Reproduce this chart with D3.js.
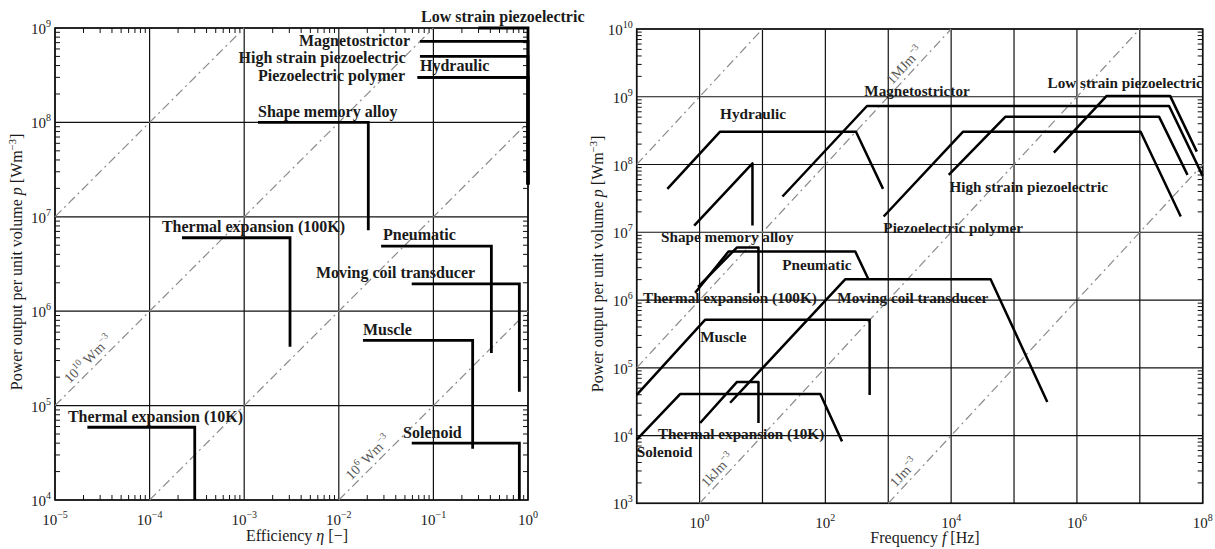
<!DOCTYPE html>
<html lang="en">
<head>
<meta charset="utf-8">
<script src="https://d3js.org/d3.v7.min.js"></script>
<style>
body { margin: 0; background: #fff; }
svg text { font-family: "Liberation Serif", "DejaVu Serif", serif; fill: #1a1a1a; }
.lbl { font-weight: bold; font-size: 16px; }
.rlbl { font-weight: bold; font-size: 15.2px; }
.tick { font-size: 15px; }
.title { font-size: 16px; }
.elbl { font-size: 14px; fill: #555; }
</style>
</head>
<body>
<script>

// ---- left panel: efficiency vs power density ----
var effNames = ["Low strain piezoelectric", "Magnetostrictor", "High strain piezoelectric", "Hydraulic",
                "Piezoelectric polymer", "Shape memory alloy", "Thermal expansion (100K)", "Pneumatic",
                "Moving coil transducer", "Muscle", "Solenoid", "Thermal expansion (10K)"];
var effMin  = [0.3, 0.072, 0.072, 0.068, 0.068, 1.4e-3, 2.2e-4, 0.028, 0.059, 0.018, 0.059, 2.2e-5];
var effMax  = [1, 1, 1, 1, 1, 0.0205, 3.05e-3, 0.41, 0.81, 0.26, 0.81, 3e-4];
var effPmax = [1e9, 7.2e8, 5e8, 3e8, 3e8, 1e8, 6e6, 4.9e6, 1.95e6, 4.9e5, 4e4, 5.9e4];
var effPmin = [2.2e7, 2.2e7, 2.2e7, 2.2e7, 2.2e7, 7.2e6, 4.2e5, 3.6e5, 1.4e5, 3.5e4, 1e4, 1e4];
// label anchors (eta, p) and alignment
var effLabelEta = [0.074, 0.0566, 0.0509, 0.0721, 0.0501, 1.4e-3, 1.35e-4, 0.0293, 5.74e-3, 0.018, 0.0478, 1.37e-5];
var effLabelP   = [1.16e9, 6.44e8, 4.26e8, 3.5e8, 2.77e8, 1.15e8, 6.95e6, 5.68e6, 2.26e6, 5.6e5, 4.5e4, 6.75e4];
var effLabelEnd = [false, true, true, false, true, false, false, false, false, false, false, false];
var effEnergy = [1e12, 1e10, 1e8, 1e6];
var effEnergyText = [null, ["10", "10", " Wm", "\u22123"], null, ["10", "6", " Wm", "\u22123"]];
var effEnergyAt = [null, 1.56e-5, null, 0.0148];

// ---- right panel: frequency vs power density ----
var freqNames = ["Hydraulic", "Shape memory alloy", "Magnetostrictor", "Low strain piezoelectric",
                 "High strain piezoelectric", "Piezoelectric polymer", "Pneumatic", "Thermal expansion (100K)",
                 "Moving coil transducer", "Muscle", "Solenoid", "Thermal expansion (10K)"];
var freqF = [
  [0.307, 2.12, 307, 826],
  [0.82, 6.93, 6.93],
  [20.8, 459, 2.92e7, 1e8],
  [4.3e5, 2.97e6, 3.03e7, 8.05e7],
  [9.16e3, 7.33e4, 2.02e7, 5.73e7],
  [845, 1.55e4, 1.03e7, 4.48e7],
  [0.85, 2.88, 299, 488],
  [0.946, 3.91, 8.63, 8.63],
  [3.06, 208, 4.24e4, 3.38e5],
  [0.1, 1.22, 506, 506],
  [0.1, 0.49, 83, 184],
  [1.02, 3.91, 8.63, 8.63]
];
var freqP = [
  [4.37e7, 3.05e8, 3.05e8, 4.37e7],
  [1.25e7, 1.04e8, 1.26e7],
  [3.37e7, 7.31e8, 7.31e8, 6.8e7],
  [1.5e8, 1.03e9, 1.03e9, 1.55e8],
  [7.03e7, 5.09e8, 5.09e8, 7.03e7],
  [1.71e7, 3.05e8, 3.05e8, 1.71e7],
  [1.28e6, 5.19e6, 5.19e6, 1.99e6],
  [1.57e6, 5.94e6, 5.94e6, 1.26e6],
  [3.05e4, 2.03e6, 2.03e6, 3.12e4],
  [3.98e4, 5.1e5, 5.1e5, 3.98e4],
  [8.7e3, 4.09e4, 4.09e4, 8.2e3],
  [1.53e4, 6.15e4, 6.15e4, 1.53e4]
];
var freqLabelF = [2.12, 0.244, 416, 3.41e5, 9.4e3, 836, 20.6, 0.126, 155, 1.02, 0.1, 0.218];
var freqLabelP = [4.71e8, 7.21e6, 1.03e9, 1.35e9, 3.94e7, 9.8e6, 2.79e6, 9.1e5, 9.1e5, 2.42e5, 4.86e3, 8.97e3];
var freqEnergy = [1e9, 1e6, 1e3, 1];
var freqEnergyText = [null, ["1MJm", "\u22123"], ["1kJm", "\u22123"], ["1Jm", "\u22123"]];
var freqEnergyAt = [null, 1320, 1.5, 1500];

var svg = d3.select("body").append("svg")
  .attr("width", 1215)
  .attr("height", 549);

var lx = d3.scaleLog().domain([1e-5, 1]).range([55, 528]);
var ly = d3.scaleLog().domain([1e4, 1e9]).range([500, 28]);
var rx = d3.scaleLog().domain([1e-1, 1e8]).range([636.7, 1202.7]);
var ry = d3.scaleLog().domain([1e3, 1e10]).range([503.3, 29]);

function decades(s) {
  var d = s.domain(), out = [];
  for (var e = Math.round(Math.log10(d[0])); e <= Math.round(Math.log10(d[1])); e++) out.push(e);
  return out;
}

function minors(s) {
  var out = [];
  decades(s).slice(0, -1).forEach(function(e) {
    for (var m = 2; m <= 9; m++) out.push(m * Math.pow(10, e));
  });
  return out;
}

function frame(x, y, xMinor, yMinor) {
  var g = svg.append("g");
  var x0 = x.range()[0], x1 = x.range()[1], y0 = y.range()[1], y1 = y.range()[0];
  // grid
  g.selectAll(".gx").data(decades(x)).enter().append("line")
    .attr("x1", function(e) { return x(Math.pow(10, e)); })
    .attr("x2", function(e) { return x(Math.pow(10, e)); })
    .attr("y1", y0).attr("y2", y1)
    .attr("stroke", "#111").attr("stroke-width", 1.2);
  g.selectAll(".gy").data(decades(y)).enter().append("line")
    .attr("y1", function(e) { return y(Math.pow(10, e)); })
    .attr("y2", function(e) { return y(Math.pow(10, e)); })
    .attr("x1", x0).attr("x2", x1)
    .attr("stroke", "#111").attr("stroke-width", 1.2);
  // minor ticks
  if (xMinor) {
    minors(x).forEach(function(v) {
      g.append("line").attr("x1", x(v)).attr("x2", x(v)).attr("y1", y1).attr("y2", y1 - 5)
        .attr("stroke", "#111").attr("stroke-width", 1);
      g.append("line").attr("x1", x(v)).attr("x2", x(v)).attr("y1", y0).attr("y2", y0 + 5)
        .attr("stroke", "#111").attr("stroke-width", 1);
    });
  }
  if (yMinor) {
    minors(y).forEach(function(v) {
      g.append("line").attr("y1", y(v)).attr("y2", y(v)).attr("x1", x0).attr("x2", x0 + 5)
        .attr("stroke", "#111").attr("stroke-width", 1);
      g.append("line").attr("y1", y(v)).attr("y2", y(v)).attr("x1", x1).attr("x2", x1 - 5)
        .attr("stroke", "#111").attr("stroke-width", 1);
    });
  }
  g.append("rect").attr("x", x0).attr("y", y0).attr("width", x1 - x0).attr("height", y1 - y0)
    .attr("fill", "none").attr("stroke", "#111").attr("stroke-width", 1.6);
  return g;
}

function powText(sel, e) {
  sel.append("tspan").text("10");
  sel.append("tspan").attr("dy", -7).attr("font-size", "10px")
    .text(e < 0 ? "\u2212" + Math.abs(e) : String(e));
}

function tickLabels(x, y, xExp, yExp) {
  var yb = y.range()[0];
  xExp.forEach(function(e) {
    var t = svg.append("text").attr("class", "tick")
      .attr("x", x(Math.pow(10, e))).attr("y", yb + 25).attr("text-anchor", "middle");
    powText(t, e);
  });
  var xl = x.range()[0];
  yExp.forEach(function(e) {
    var t = svg.append("text").attr("class", "tick")
      .attr("x", xl - 4).attr("y", y(Math.pow(10, e)) + 6).attr("text-anchor", "end");
    powText(t, e);
  });
}

function energyLines(x, y, E, texts, at) {
  var fd = x.domain(), pd = y.domain();
  E.forEach(function(en, i) {
    var a = Math.max(fd[0], pd[0] / en), b = Math.min(fd[1], pd[1] / en);
    svg.append("line")
      .attr("x1", x(a)).attr("y1", y(a * en)).attr("x2", x(b)).attr("y2", y(b * en))
      .attr("stroke", "#8a8a8a").attr("stroke-width", 1.2)
      .attr("stroke-dasharray", "9,4,2,4");
    if (texts[i]) {
      var px = x(at[i]), py = y(at[i] * en);
      var ang = Math.atan2(y(at[i] * en * 10) - py, x(at[i] * 10) - px) * 180 / Math.PI;
      var t = svg.append("text").attr("class", "elbl")
        .attr("transform", "translate(" + px + "," + py + ") rotate(" + ang + ")")
        .attr("y", -5);
      var parts = texts[i];
      if (parts.length === 4) {
        t.append("tspan").text(parts[0]);
        t.append("tspan").attr("dy", -6).attr("font-size", "9.5px").text(parts[1]);
        t.append("tspan").attr("dy", 6).text(parts[2]);
        t.append("tspan").attr("dy", -6).attr("font-size", "9.5px").text(parts[3]);
      } else {
        t.append("tspan").text(parts[0]);
        t.append("tspan").attr("dy", -6).attr("font-size", "9.5px").text(parts[1]);
      }
    }
  });
}

function yTitle(xpos, ymid) {
  var t = svg.append("text").attr("class", "title")
    .attr("transform", "translate(" + xpos + "," + ymid + ") rotate(-90)")
    .attr("text-anchor", "middle");
  t.append("tspan").text("Power output per unit volume ");
  t.append("tspan").attr("font-style", "italic").text("p");
  t.append("tspan").text(" [Wm");
  t.append("tspan").attr("dy", -6).attr("font-size", "10.5px").text("\u22123");
  t.append("tspan").attr("dy", 6).text("]");
}

// ---------- left panel ----------
frame(lx, ly, true, true);
energyLines(lx, ly, effEnergy, effEnergyText, effEnergyAt);

var line = d3.line().x(function(d) { return d[0]; }).y(function(d) { return d[1]; });

effNames.forEach(function(n, i) {
  svg.append("path")
    .attr("d", line([[lx(effMin[i]), ly(effPmax[i])], [lx(effMax[i]), ly(effPmax[i])], [lx(effMax[i]), ly(effPmin[i])]]))
    .attr("fill", "none").attr("stroke", "#000").attr("stroke-width", 2.8);
  svg.append("text").attr("class", "lbl")
    .attr("x", lx(effLabelEta[i])).attr("y", ly(effLabelP[i]))
    .attr("text-anchor", effLabelEnd[i] ? "end" : "start")
    .text(n);
});

tickLabels(lx, ly, [-5, -4, -3, -2, -1, 0], [4, 5, 6, 7, 8, 9]);
yTitle(22, 262);
var xt = svg.append("text").attr("class", "title").attr("x", 297).attr("y", 541).attr("text-anchor", "middle");
xt.append("tspan").text("Efficiency ");
xt.append("tspan").attr("font-style", "italic").text("\u03b7");
xt.append("tspan").text(" [\u2212]");

// ---------- right panel ----------
frame(rx, ry, false, true);
energyLines(rx, ry, freqEnergy, freqEnergyText, freqEnergyAt);

freqNames.forEach(function(n, i) {
  var pts = freqF[i].map(function(f, k) { return [rx(f), ry(freqP[i][k])]; });
  svg.append("path").attr("d", line(pts))
    .attr("fill", "none").attr("stroke", "#000").attr("stroke-width", 2.5)
    .attr("stroke-linejoin", "round");
  svg.append("text").attr("class", "rlbl")
    .attr("x", rx(freqLabelF[i])).attr("y", ry(freqLabelP[i]))
    .text(n);
});

tickLabels(rx, ry, [0, 2, 4, 6, 8], [3, 4, 5, 6, 7, 8, 9, 10]);
yTitle(603, 264);
var ft = svg.append("text").attr("class", "title").attr("x", 925).attr("y", 543).attr("text-anchor", "middle");
ft.append("tspan").text("Frequency ");
ft.append("tspan").attr("font-style", "italic").text("f");
ft.append("tspan").text(" [Hz]");

</script>
</body>
</html>
